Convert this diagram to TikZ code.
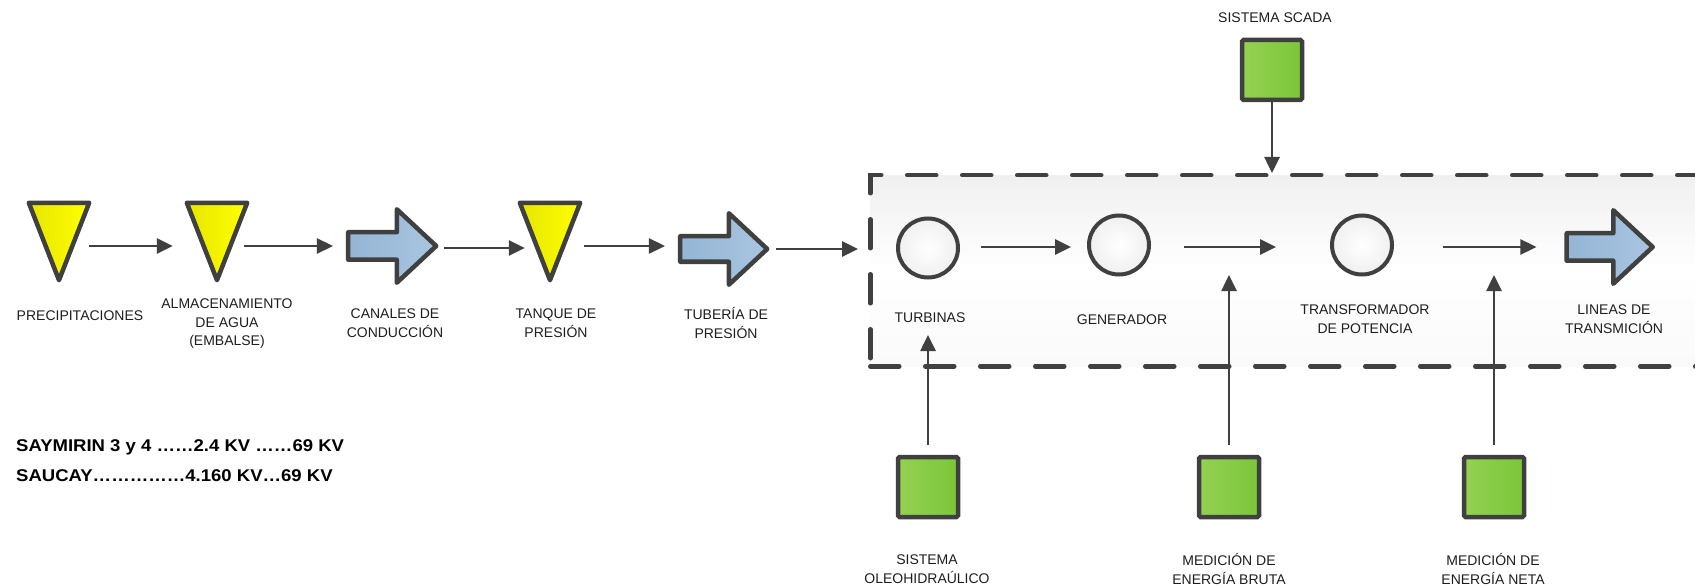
\documentclass[tikz,border=0pt]{standalone}
\usepackage{fontspec}
\setmainfont{Liberation Sans}
\usetikzlibrary{arrows.meta,shapes.arrows,shapes.geometric,calc}

\definecolor{edge}{HTML}{404040}
\definecolor{ink}{HTML}{1E1E1E}
\definecolor{yelA}{HTML}{FFFF00}
\definecolor{yelB}{HTML}{E6E600}
\definecolor{bluA}{HTML}{A9C5E0}
\definecolor{bluB}{HTML}{94B5D5}
\definecolor{grnA}{HTML}{94D152}
\definecolor{grnB}{HTML}{7BC639}

\tikzset{
  lbl/.style={font=\fontsize{14}{18.5}\selectfont, text=ink, align=center, inner sep=0pt},
  boldtxt/.style={font=\bfseries\fontsize{17}{20}\selectfont, text=black, anchor=west, inner sep=0pt},
  slot/.style={minimum width=60pt, minimum height=86pt, inner sep=0pt, draw=none},
  tri/.style={draw=edge, line width=4.5pt, line join=round, left color=yelB, right color=yelA},
  blockarrow/.style={single arrow, draw=edge, line width=4.5pt, line join=round,
    left color=bluB, right color=bluA, inner xsep=0pt, inner ysep=11.5pt,
    single arrow head extend=23pt, single arrow tip angle=86, anchor=tip},
  disc/.style={ellipse, draw=edge, line width=4pt, minimum width=60pt, minimum height=59pt,
    inner sep=0pt, inner color=white, outer color=black!6},
  gbox/.style={draw=edge, line width=4.5pt, rounded corners=1.5pt, minimum size=60pt,
    inner sep=0pt, left color=grnA, right color=grnB},
  flow/.style={draw=edge, line width=2.6pt, -{Triangle[length=16pt,width=15pt]}},
  frame/.style={draw=edge, line width=4.5pt, line cap=round, dash pattern=on 29pt off 26pt,
    top color=black!6, bottom color=black!2, middle color=white,
    minimum width=900pt, minimum height=191pt, anchor=north west, inner sep=0pt}
}

\begin{document}
\begin{tikzpicture}[x=1pt,y=-1pt]
\useasboundingbox (0,0) rectangle (1695,588);
\clip (0,0) rectangle (1695,588);

% plant enclosure
\node[frame] (frame) at (868,173) {};

% water path: reservoirs (triangles) and conduits (block arrows)
\node[slot] (prec) at (59,246) {};
\node[slot] (alma) at (217,246) {};
\node[slot] (tanq) at (550,246) {};
\foreach \n in {prec,alma,tanq}
  \draw[tri] (\n.north west) -- (\n.north east) -- ([yshift=9pt]\n.south) -- cycle;

\node[blockarrow, minimum height=88pt] (cana) at (439.5,246) {};
\node[blockarrow, minimum height=87pt, inner ysep=10.5pt] (tube) at (770.5,249) {};

% machines
\node[disc] (turb) at (928,248) {};
\node[disc] (gene) at (1119,245) {};
\node[disc] (tran) at (1362,245) {};
\node[blockarrow, minimum height=86pt] (line) at (1656,247) {};

% control and metering blocks
\node[gbox] (scad) at (1272,70) {};
\node[gbox] (oleo) at (928,487) {};
\node[gbox] (brut) at (1229,487) {};
\node[gbox] (neta) at (1494,487) {};

% labels
\node[lbl] (lprec) at (80,316) {PRECIPITACIONES};
\node[lbl] (lalma) at (227,324) {ALMACENAMIENTO\\DE AGUA\\(EMBALSE)};
\node[lbl] (lcana) at (395,323) {CANALES DE\\CONDUCCIÓN};
\node[lbl] (ltanq) at (556,323) {TANQUE DE\\PRESIÓN};
\node[lbl] (ltube) at (726,323) {TUBERÍA DE\\PRESIÓN};
\node[lbl] (lturb) at (930,318) {TURBINAS};
\node[lbl] (lgene) at (1122,320) {GENERADOR};
\node[lbl] (ltran) at (1365,319) {TRANSFORMADOR\\DE POTENCIA};
\node[lbl] (lline) at (1614,319) {LINEAS DE\\TRANSMICIÓN};
\node[lbl] (lscad) at (1275,18) {SISTEMA SCADA};
\node[lbl] (loleo) at (927,569) {SISTEMA\\OLEOHIDRAÚLICO};
\node[lbl] (lbrut) at (1229,569) {MEDICIÓN DE\\ENERGÍA BRUTA};
\node[lbl] (lneta) at (1493,569) {MEDICIÓN DE\\ENERGÍA NETA};

\node[boldtxt] (sayl) at (16,447) {\scalebox{1.09}[1]{SAYMIRIN 3 y 4 ……2.4 KV ……69 KV}};
\node[boldtxt] (saul) at (16,476) {\scalebox{1.09}[1]{SAUCAY……………4.160 KV…69 KV}};

% horizontal flow
\draw[flow, shorten >=14pt] (prec.east) -- (alma.west);
\draw[flow, shorten <=-3pt] (alma.east) -- ([xshift=-13pt]cana.tail |- alma.east);
\draw[flow, shorten <=4pt, shorten >=-5pt] (cana.tip |- 0,248) -- (tanq.west |- 0,248);
\draw[flow, shorten <=4pt] (tanq.east) -- ([xshift=-13pt]tube.tail |- tanq.east);
\draw[flow, shorten <=5pt, shorten >=38pt] (tube.tip) -- (tube.tip -| turb.west);
\draw[flow, shorten <=21pt, shorten >=16pt] (turb.east |- 0,247) -- (gene.west |- 0,247);
\draw[flow, shorten <=33pt, shorten >=54pt] (gene.east |- 0,247) -- (tran.west |- 0,247);
\draw[flow, shorten <=49pt] (tran.east |- 0,247) -- ([xshift=-28pt]line.tail);

% control inputs
\coordinate (turbIn) at (928,335);
\coordinate (brutIn) at (1229,275);
\coordinate (netaIn) at (1494,275);
\draw[flow] (scad.south) -- (scad.south |- frame.north);
\draw[flow, shorten <=10pt] (oleo.north) -- (turbIn);
\draw[flow, shorten <=10pt] (brut.north) -- (brutIn);
\draw[flow, shorten <=10pt] (neta.north) -- (netaIn);
\end{tikzpicture}
\end{document}
